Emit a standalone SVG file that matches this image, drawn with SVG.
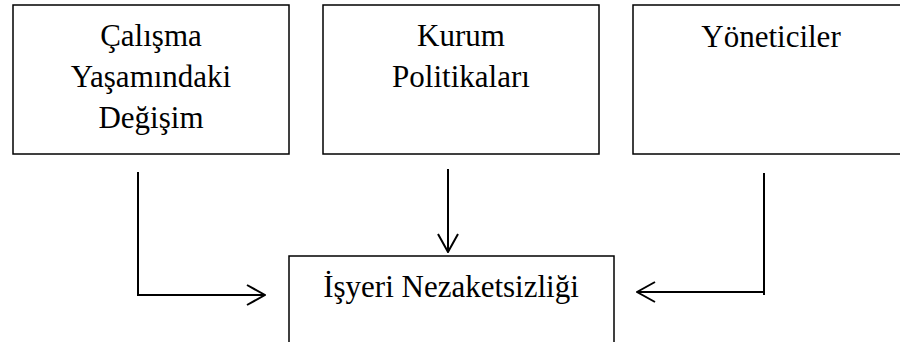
<svg xmlns="http://www.w3.org/2000/svg" width="900" height="342" viewBox="0 0 900 342">
  <style>
    .box { fill: #ffffff; stroke: #000000; stroke-width: 1.5; }
    .label { font-family: "Liberation Serif", "Times New Roman", serif; font-size: 31px; fill: #000000; text-anchor: middle; }
    .conn { fill: none; stroke: #000000; stroke-width: 2; marker-end: url(#chevron); }
  </style>
  <defs>
    <marker id="chevron" viewBox="0 0 20 22" refX="19" refY="11" markerWidth="20" markerHeight="22" markerUnits="userSpaceOnUse" orient="auto">
      <path d="M1,1 L19,11 L1,21" fill="none" stroke="#000000" stroke-width="2"/>
    </marker>
  </defs>
  <rect width="900" height="342" fill="#ffffff"/>

  <g id="calisma">
    <rect class="box" x="13" y="5" width="276" height="149"/>
    <text class="label" x="151" y="46">Çalışma</text>
    <text class="label" x="151" y="87">Yaşamındaki</text>
    <text class="label" x="151" y="128">Değişim</text>
  </g>

  <g id="kurum">
    <rect class="box" x="323" y="5" width="276" height="149"/>
    <text class="label" x="461" y="46">Kurum</text>
    <text class="label" x="461" y="87">Politikaları</text>
  </g>

  <g id="yoneticiler">
    <rect class="box" x="633" y="5" width="276" height="149"/>
    <text class="label" x="771" y="47">Yöneticiler</text>
  </g>

  <g id="nezaketsizlik">
    <rect class="box" x="289" y="256" width="325" height="120"/>
    <text class="label" x="451" y="297">İşyeri Nezaketsizliği</text>
  </g>

  <g id="connectors">
    <polyline class="conn" points="138,172 138,295 265,295"/>
    <polyline class="conn" points="448,169 448,252"/>
    <polyline class="conn" points="764,173 764,292 637,292"/>
    <line x1="764" y1="292" x2="764" y2="295" stroke="#000000" stroke-width="2"/>
  </g>
</svg>
